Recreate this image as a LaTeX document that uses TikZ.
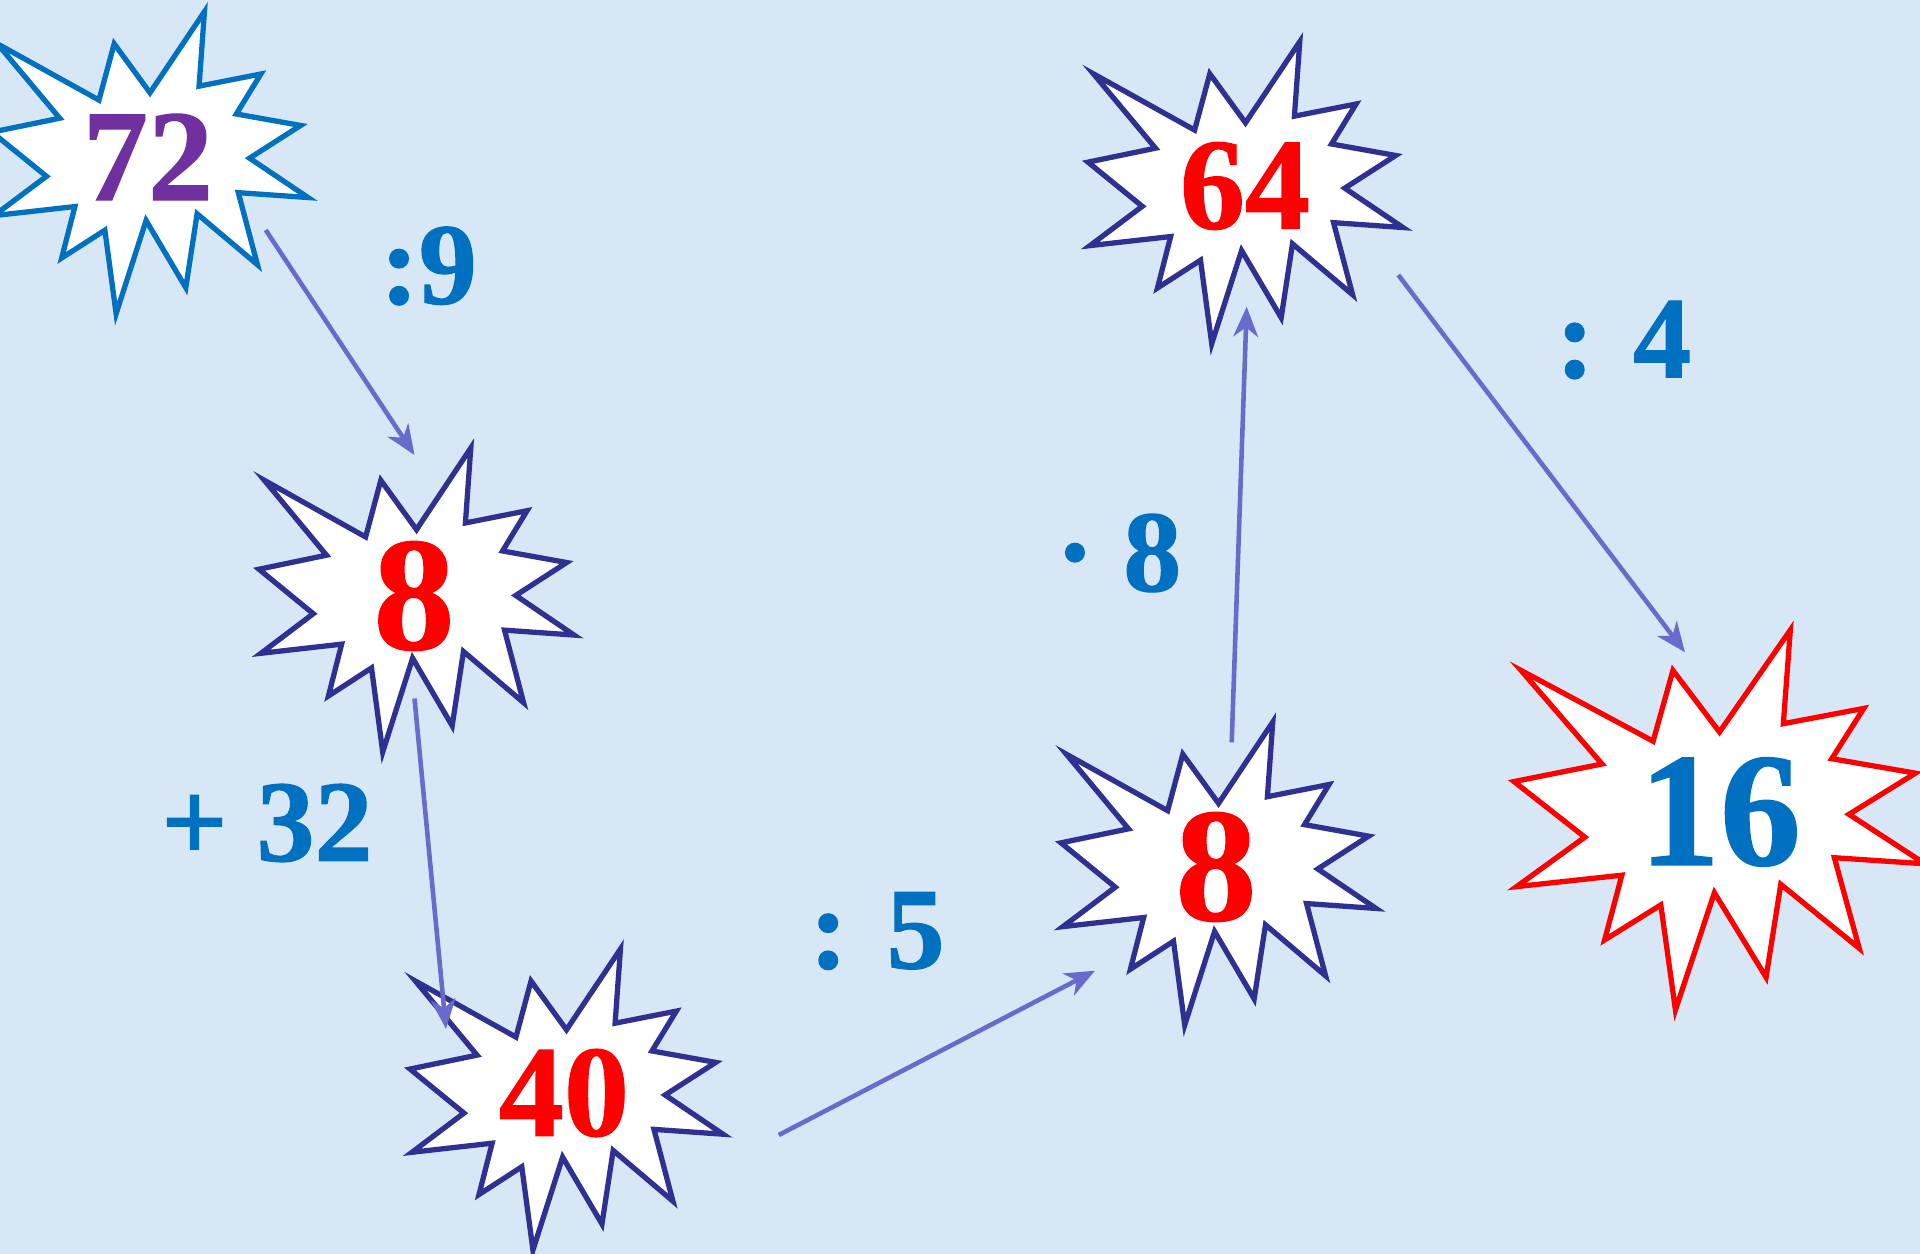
\documentclass[tikz,border=0pt]{standalone}
\usepackage{fontspec}
\setmainfont{Liberation Serif}[BoldFont={Liberation Serif Bold}, BoldFeatures={FakeBold=1}]
\usetikzlibrary{arrows.meta}
\definecolor{bgblue}{RGB}{216,231,246}
\definecolor{numblue}{RGB}{0,112,192}
\definecolor{navy}{RGB}{46,49,146}
\definecolor{plum}{RGB}{112,48,160}
\definecolor{arrowblue}{RGB}{106,106,204}

\begin{document}
\begin{tikzpicture}[x=0.01cm, y=-0.01cm,
	seal/.pic={\path[pic actions] (50,26.85) -- (67.23,0) -- (65.53,24.65) -- (85.09,20.63) -- (77.32,33.87) -- (97.67,37.67) -- (81.51,48.50) -- (100,61.53) -- (77.95,59.92) -- (84.00,83.77) -- (64.91,66.93) -- (61.33,91.38) -- (48.76,69.14) -- (39.28,100) -- (35.72,72.35) -- (22.05,81.56) -- (26.24,64.52) -- (0.63,67.53) -- (17.23,54.51) -- (0,39.88) -- (21.42,35.26) -- (1.71,10.63) -- (33.85,29.26) -- (38.67,10.63) -- cycle;},
	burst/.style={draw=navy, fill=white, line width=1.5pt},
	big/.style={font=\fontsize{46}{46}\selectfont\bfseries, inner sep=0pt},
	mid/.style={font=\fontsize{37}{37}\selectfont\bfseries, inner sep=0pt},
	op/.style={font=\fontsize{33}{33}\selectfont\bfseries, text=numblue, inner sep=0pt},
	arr/.style={-{Stealth[length=8.5pt, width=7pt, inset=2.6pt]}, arrowblue, line width=1.3pt}]
	\path[use as bounding box, clip] (0,0) rectangle (1920,1254);
	\fill[bgblue] (0,0) rectangle (1920,1254);
	\pic[burst, draw=numblue, xscale=3.16, yscale=3.02] at (-8,11.7) {seal};
	\node[mid, text=plum] (s72) at (148,157) {72};
	\pic[burst, xscale=3.15, yscale=3.04] at (259,448) {seal};
	\node[big, text=red] (s8a) at (414,596) {8};
	\pic[burst, xscale=3.13, yscale=3.01] at (410,949) {seal};
	\node[mid, text=red] (s40) at (564,1093) {40};
	\pic[burst, xscale=3.15, yscale=3.03] at (1061,722) {seal};
	\node[big, text=red] (s8b) at (1216,867) {8};
	\pic[burst, xscale=3.15, yscale=3.02] at (1088,41.7) {seal};
	\node[mid, text=red] (s64) at (1245,186) {64};
	\pic[burst, draw=red, xscale=4.11, yscale=3.80] at (1514,630) {seal};
	\node[big, text=numblue] (s16) at (1720,812) {16};
	\node[op] (div9) at (428.5,266) {:9};
	\node[op] (add32) at (267,823) {+ 32};
	\node[op] (div5) at (877,931) {: 5};
	\node[op] (mul8) at (1118.5,553) {· 8};
	\node[op] (div4) at (1623.5,340) {: 4};
	\draw[arr] ([shift={(117.7,73)}]s72.center) -- ([shift={(0.5,-141)}]s8a.center);
	\draw[arr] ([shift={(0.5,102.5)}]s8a.center) -- ([shift={(-118,-64)}]s40.center);
	\draw[arr] ([shift={(214.8,42)}]s40.center) -- ([shift={(-121,103.7)}]s8b.center);
	\draw[arr] ([shift={(15.7,-124.7)}]s8b.center) -- ([shift={(1.7,120.7)}]s64.center);
	\draw[arr] ([shift={(153.3,89)}]s64.center) -- ([shift={(-35,-159.7)}]s16.center);
\end{tikzpicture}
\end{document}
